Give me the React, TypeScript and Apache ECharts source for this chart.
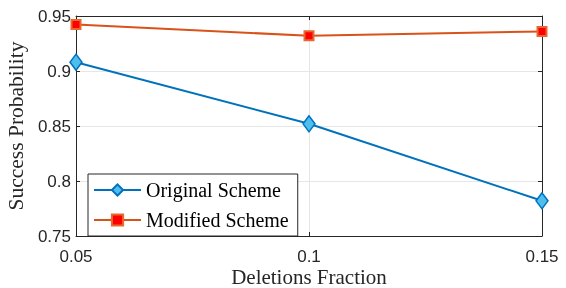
import React, { useEffect, useRef } from "react";
import * as echarts from "echarts";

const xValues = [0.05, 0.1, 0.15];
const originalScheme = [0.908, 0.852, 0.782];
const modifiedScheme = [0.9423, 0.932, 0.936];
const seriesNames = ["Original Scheme", "Modified Scheme"];

export default function App() {
  const ref = useRef<HTMLDivElement>(null);
  useEffect(() => {
    const chart = echarts.init(ref.current!, null, { renderer: "svg" });
    const serif = "Liberation Serif";
    const sans = "Liberation Sans";
    const fmt = (v: number) => String(parseFloat(v.toFixed(2)));
    const legendText = { fontFamily: serif, fontSize: 20, color: "#000", lineHeight: 14 };
    chart.setOption({
      animation: false,
      grid: { left: 76, right: 24, top: 16, bottom: 52, outerBoundsMode: "none", containLabel: false },
      legend: {
        left: 88,
        top: 174,
        orient: "vertical",
        backgroundColor: "#fff",
        borderColor: "#262626",
        borderWidth: 1,
        borderRadius: 0,
        padding: [6, 9, 6, 5],
        itemGap: 10,
        itemWidth: 47,
        itemHeight: 14,
        textStyle: legendText,
        data: seriesNames.map((n) => ({ name: n, textStyle: legendText })),
      },
      xAxis: [
        {
          type: "value",
          min: 0.05,
          max: 0.15,
          interval: 0.05,
          name: "Deletions Fraction",
          nameLocation: "middle",
          nameGap: 30,
          nameMoveOverlap: false,
          nameTextStyle: { fontFamily: serif, fontSize: 21, color: "#262626" },
          axisLine: { show: true, lineStyle: { color: "#262626", width: 1 } },
          axisTick: { show: true, inside: true, length: 4, lineStyle: { color: "#262626" } },
          axisLabel: { fontFamily: sans, fontSize: 17, color: "#262626", margin: 12, formatter: fmt },
          splitLine: { show: true, lineStyle: { color: "#e6e6e6", width: 1 } },
        },
        {
          type: "value",
          position: "top",
          min: 0.05,
          max: 0.15,
          interval: 0.05,
          axisLine: { show: true, onZero: false, lineStyle: { color: "#262626", width: 1 } },
          axisTick: { show: true, inside: true, length: 4, lineStyle: { color: "#262626" } },
          axisLabel: { show: false },
          splitLine: { show: false },
        },
      ],
      yAxis: [
        {
          type: "value",
          min: 0.75,
          max: 0.95,
          interval: 0.05,
          name: "Success Probability",
          nameLocation: "middle",
          nameGap: 47,
          nameTextStyle: { fontFamily: serif, fontSize: 21.5, color: "#262626" },
          axisLine: { show: true, lineStyle: { color: "#262626", width: 1 } },
          axisTick: { show: true, inside: true, length: 4, lineStyle: { color: "#262626" } },
          axisLabel: { fontFamily: sans, fontSize: 17, color: "#262626", margin: 5, formatter: fmt },
          splitLine: { show: true, lineStyle: { color: "#e6e6e6", width: 1 } },
        },
        {
          type: "value",
          position: "right",
          min: 0.75,
          max: 0.95,
          interval: 0.05,
          axisLine: { show: true, onZero: false, lineStyle: { color: "#262626", width: 1 } },
          axisTick: { show: true, inside: true, length: 4, lineStyle: { color: "#262626" } },
          axisLabel: { show: false },
          splitLine: { show: false },
        },
      ],
      series: [
        {
          name: seriesNames[0],
          type: "line",
          data: xValues.map((x, i) => [x, originalScheme[i]]),
          lineStyle: { color: "#0072BD", width: 2 },
          itemStyle: { color: "#4DBEEE", borderColor: "#0072BD", borderWidth: 1.5 },
          symbol: "diamond",
          symbolSize: [12, 16],
          z: 3,
        },
        {
          name: seriesNames[1],
          type: "line",
          data: xValues.map((x, i) => [x, modifiedScheme[i]]),
          lineStyle: { color: "#D95319", width: 2 },
          itemStyle: { color: "#FF0000", borderColor: "#E8692F", borderWidth: 2 },
          symbol: "rect",
          symbolSize: 9,
          z: 4,
        },
      ],
    });
    return () => chart.dispose();
  }, []);
  return (
    <div
      ref={ref}
      style={{ position: "fixed", left: 0, top: 0, width: 566, height: 288 }}
    />
  );
}
